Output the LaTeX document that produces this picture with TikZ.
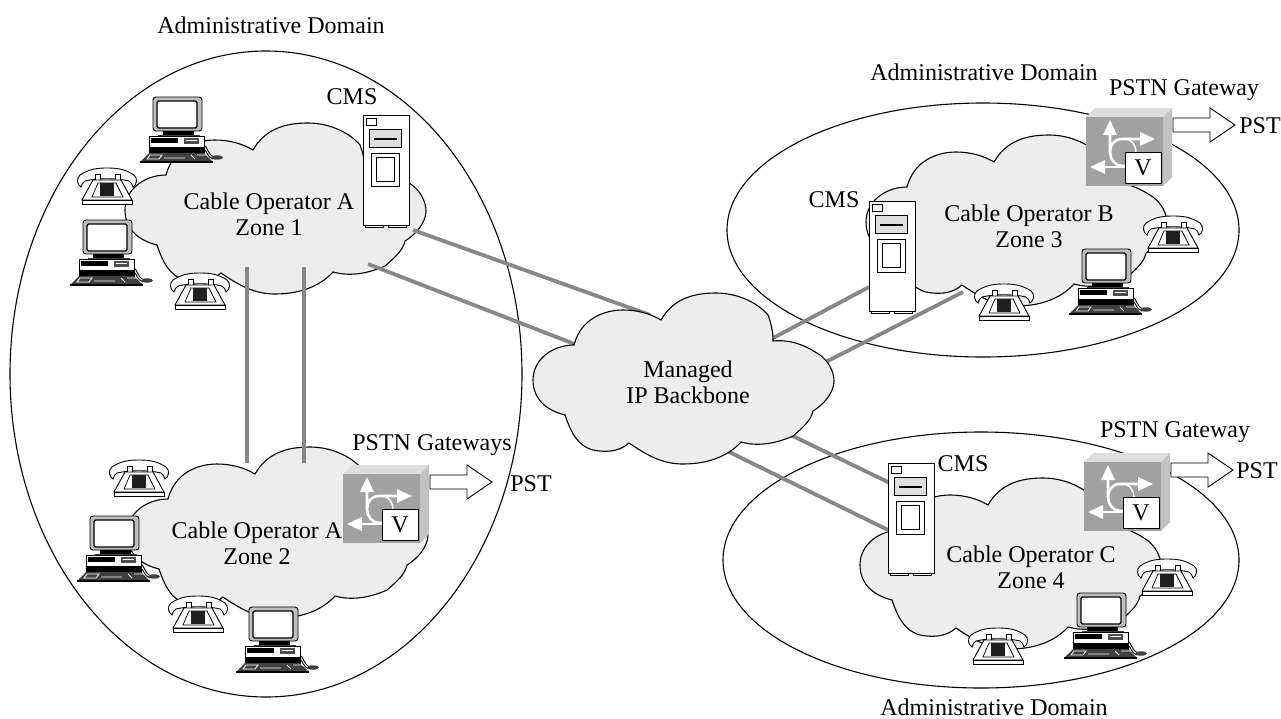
\documentclass[tikz,border=0pt]{standalone}
\usepackage{fontspec}
\setmainfont{Liberation Serif}
\tikzset{
  x=1pt,y=-1pt,
  lbl/.style={inner sep=0pt,align=center,font=\fontsize{24}{26}\selectfont,text=black},
  graylink/.style={line width=3.8pt,draw=black!47},
  admdomain/.style={draw=black,line width=1.1pt,fill=none},
  pics/cloudshape/.style={code={
    \coordinate (-c) at (150,85);
    \draw[line width=1.1pt,fill=black!7]
      (32,122) .. controls (12,117) and (0,105) .. (0,87)
      .. controls (0,66) and (20,52) .. (41,52)
      .. controls (48,25) and (72,17) .. (90,17)
      .. controls (105,17) and (118,21) .. (128,27)
      .. controls (140,6) and (160,0) .. (183,0)
      .. controls (205,0) and (225,10) .. (235,22)
      .. controls (238,30) and (240,38) .. (240,48)
      .. controls (260,46) and (275,54) .. (287,62)
      .. controls (295,68) and (301,78) .. (301,88)
      .. controls (301,100) and (290,112) .. (280,118)
      .. controls (278,128) and (268,136) .. (260,143)
      .. controls (240,152) and (222,153) .. (208,149)
      .. controls (198,160) and (180,171) .. (150,171)
      .. controls (130,171) and (115,163) .. (96,150)
      .. controls (85,160) and (70,159) .. (60,157)
      .. controls (45,153) and (38,140) .. (32,122) -- cycle;
  }},
  pics/computer/.style={code={
    \draw[line width=0.9pt] (51,48) .. controls (55,50) and (54,57) .. (61,60)
      (51,52) .. controls (54,54) and (54,60) .. (60,62);
    \fill[black!75] (64,60.5) ellipse [x radius=6,y radius=2.2];
    \draw[line width=0.9pt,fill=black!25,rounded corners=3pt] (0,0) rectangle (49,34);
    \draw[line width=1.3pt,fill=white,rounded corners=1.5pt] (4,4) rectangle (44,31);
    \fill[black] (10,34) rectangle (41,38);
    \fill[black!75] (5,38) rectangle (47,39.5);
    \draw[line width=0.9pt,fill=white] (-4,39.5) rectangle (51,56);
    \fill[black] (-2,41) rectangle (25,46);
    \fill[black!70] (31,41) rectangle (46,47);
    \fill[white] (33,43) rectangle (44,44);
    \fill[black] (-4,50) rectangle (51,56);
    \fill[black!75] (-4,56) -- (51,56) -- (60,65) -- (-13,65) -- cycle;
    \draw[white,line width=0.8pt] (-6,62) -- (-3,58) -- (9,58) -- (6,62) -- cycle
      (11,61) -- (32,61) (38,58) -- (42,62) (44,58) -- (54,58);
    \fill[black] (-13,64) rectangle (60,66);
  }},
  pics/phone/.style={code={
    \draw[line width=0.9pt,fill=white] (4,19) .. controls (0,17) and (-1,10) .. (3,7)
      .. controls (12,1) and (20,0) .. (30,0) .. controls (40,0) and (48,1) .. (57,7)
      .. controls (61,10) and (60,17) .. (56,19) .. controls (55,16) and (54,14) .. (52,13)
      .. controls (40,10) and (20,10) .. (8,13) .. controls (6,14) and (5,16) .. (4,19) -- cycle;
    \draw[line width=0.9pt,fill=white] (18,6) rectangle (23,13) (38,6) rectangle (43,13);
    \draw[line width=0.9pt,fill=white] (16,12) -- (44,12) -- (55,32) -- (5,32) -- cycle;
    \draw[line width=0.7pt] (21,15) -- (39,15) -- (46,29) -- (15,29) -- cycle;
    \fill[black!88] (23,15) rectangle (37,28);
    \draw[line width=0.9pt,fill=white] (5,32) rectangle (55,36);
  }},
  pics/cmsbox/.style={code={
    \draw[line width=0.9pt,fill=white] (2,110) rectangle (20,112.5) (25,110) rectangle (43,112.5);
    \draw[line width=0.9pt,fill=white] (0,0) rectangle (46,110);
    \draw[line width=0.8pt] (3,3) rectangle (13,10);
    \draw[line width=0.9pt,fill=black!13] (6,14) rectangle (38,32);
    \draw[line width=1.2pt] (11,24) -- (34,24);
    \draw[line width=0.9pt] (8,38) rectangle (36,71);
    \draw[line width=0.9pt] (13,42) rectangle (31,66);
  }},
  pics/gateway/.style={code={
    \fill[black!13] (0,0) -- (9,-9) -- (86,-9) -- (77,0) -- cycle;
    \fill[black!24] (77,0) -- (86,-9) -- (86,60) -- (77,69) -- cycle;
    \fill[black!37] (0,0) rectangle (77,69);
    \draw[white,line width=1.4pt] (38,22) .. controls (46,22) and (50,28) .. (50,36);
    \draw[white,line width=2.6pt] (24,16) -- (24,35) .. controls (24,42) and (29,49) .. (36,49) -- (40,49);
    \draw[white,line width=2.6pt] (54,22) -- (36,22) .. controls (28,22) and (24,28) .. (24,35);
    \draw[white,line width=2.6pt] (18,50) -- (40,50);
    \fill[white] (24,3) -- (31,18) -- (17,18) -- cycle;
    \fill[white] (69,22) -- (54,15) -- (54,29) -- cycle;
    \fill[white] (4,50) -- (19,43) -- (19,57) -- cycle;
    \node[draw=black,line width=0.9pt,fill=white,minimum width=36pt,minimum height=31pt,inner sep=0pt,font=\fontsize{24}{26}\selectfont] (-v) at (57,50.5) {V};
    \draw[line width=0.9pt,fill=white] (87,1) -- (124,1) -- (124,-9) -- (149,8) -- (124,25) -- (124,15) -- (87,15) -- cycle;
  }},
}
\begin{document}
\begin{tikzpicture}
\useasboundingbox (0,0) rectangle (1281,718);
\fill[white] (0,0) rectangle (1281,718);
% administrative domains
\draw[admdomain] (266,374) ellipse [x radius=256,y radius=323];
\draw[admdomain] (983,230) ellipse [x radius=256,y radius=127];
\draw[admdomain] (981,560) ellipse [x radius=258,y radius=128];
% zone clouds
\pic (z1) at (125,123) {cloudshape};
\pic (z2) at (127,447) {cloudshape};
\pic (z3) at (866,135) {cloudshape};
\pic (z4) at (860,478) {cloudshape};
% link end points
\coordinate (a1) at (413,230); \coordinate (b1) at (650,315);
\coordinate (a2) at (368,264); \coordinate (b2) at (590,350);
\coordinate (a3) at (247,267); \coordinate (b3) at (247,463);
\coordinate (a4) at (304,267); \coordinate (b4) at (304,463);
\coordinate (a5) at (869,287); \coordinate (b5) at (760,345);
\coordinate (a6) at (963,292); \coordinate (b6) at (810,370);
\coordinate (a7) at (890,483); \coordinate (b7) at (770,425);
\coordinate (a8) at (890,531); \coordinate (b8) at (715,445);
\draw[graylink] (a1) -- (b1);
\draw[graylink] (a2) -- (b2);
\draw[graylink] (a3) -- (b3);
\draw[graylink] (a4) -- (b4);
\draw[graylink] (a5) -- (b5);
\draw[graylink] (a6) -- (b6);
\draw[graylink] (a7) -- (b7);
\draw[graylink] (a8) -- (b8);
% backbone
\pic (bb) at (533,293) {cloudshape};
% equipment
\pic (cms1) at (363,115) {cmsbox};
\pic (cms3) at (869,201) {cmsbox};
\pic (cms4) at (888,463) {cmsbox};
\pic (gw2) at (343,474) {gateway};
\pic (gw3) at (1086,117) {gateway};
\pic (gw4) at (1084,462) {gateway};
\pic (pc1) at (153,97) {computer};
\pic (pc2) at (83,220) {computer};
\pic (pc3) at (90,516) {computer};
\pic (pc4) at (249,607) {computer};
\pic (pc5) at (1082,249) {computer};
\pic (pc6) at (1077,593) {computer};
\pic (ph1) at (77,168) {phone};
\pic (ph2) at (170,273) {phone};
\pic (ph3) at (109,460) {phone};
\pic (ph4) at (168,596) {phone};
\pic (ph5) at (1143,216) {phone};
\pic (ph6) at (974,284) {phone};
\pic (ph7) at (1137,559) {phone};
\pic (ph8) at (968,628) {phone};
% labels
\node[lbl] (t1) at (271,25) {Administrative Domain};
\node[lbl] (t2) at (984,72) {Administrative Domain};
\node[lbl] (t3) at (994,707) {Administrative Domain};
\node[lbl] (t4) at (352,97) {CMS};
\node[lbl] (t5) at (834,200) {CMS};
\node[lbl] (t6) at (963,464) {CMS};
\node[lbl] (t7) at (269,214) {Cable Operator A\\Zone 1};
\node[lbl] (t8) at (257,543) {Cable Operator A\\Zone 2};
\node[lbl] (t9) at (1029,226) {Cable Operator B\\Zone 3};
\node[lbl] (t10) at (1031,567) {Cable Operator C\\Zone 4};
\node[lbl] (t11) at (688,382) {Managed\\IP Backbone};
\node[lbl] (t12) at (432,445) {PSTN Gateways};
\node[lbl] (t13) at (1184,90) {PSTN Gateway};
\node[lbl] (t14) at (1175,432) {PSTN Gateway};
\node[lbl] (t15) at (531,484) {PST};
\node[lbl] (t16) at (1260,126) {PST};
\node[lbl] (t17) at (1257,471) {PST};
\end{tikzpicture}
\end{document}
